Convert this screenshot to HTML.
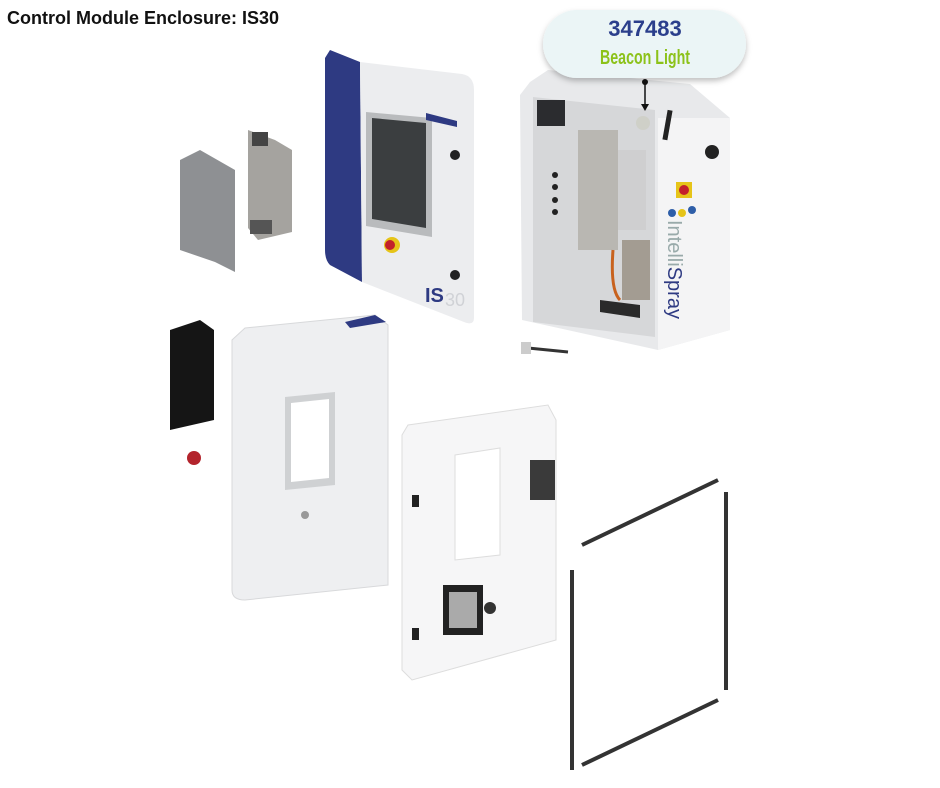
<!DOCTYPE html>
<html><head><style>
body{margin:0;background:#fff;width:940px;height:788px;overflow:hidden;position:relative;font-family:"Liberation Sans",sans-serif}
.t{position:absolute;left:7px;top:8px;font-size:18px;font-weight:bold;color:#111}
</style></head><body>
<div class="t">Control Module Enclosure: IS30</div>
<svg width="940" height="788" style="position:absolute;left:0;top:0">
<defs>
<filter id="sh" x="-20%" y="-20%" width="140%" height="160%"><feDropShadow dx="0" dy="3" stdDeviation="3" flood-opacity="0.25"/></filter>
</defs>
<path d="M180 160 L200 150 L235 170 L235 272 L215 262 L180 250 Z" fill="#8e9093"/>
<path d="M248 130 L275 140 L292 150 L292 232 L258 240 L248 228 Z" fill="#a5a39f"/>
<rect x="252" y="132" width="16" height="14" fill="#444"/>
<rect x="250" y="220" width="22" height="14" fill="#555"/>
<!-- front door -->
<path d="M330 50 L360 62 L362 282 L330 265 Q325 260 325 250 L325 58 Z" fill="#2e3a82"/>
<path d="M360 62 L462 74 Q474 76 474 90 L474 318 Q474 326 464 322 L362 282 Z" fill="#ecedef"/>
<path d="M366 112 L432 118 L432 237 L366 226 Z" fill="#b9bbbd"/>
<path d="M372 118 L426 123 L426 228 L372 219 Z" fill="#3b3e40"/>
<circle cx="392" cy="245" r="8" fill="#e6c419"/><circle cx="390" cy="245" r="5" fill="#c3202a"/>
<path d="M426 113 L457 121 L457 127 L426 120 Z" fill="#2e3a82"/>
<circle cx="455" cy="155" r="5" fill="#222"/><circle cx="455" cy="275" r="5" fill="#222"/>
<text x="425" y="302" font-size="20" font-weight="bold" fill="#2e3a82" font-family="Liberation Sans">IS</text>
<text x="445" y="306" font-size="18" fill="#d0d2d6" font-family="Liberation Sans">30</text>
<!-- cabinet -->
<path d="M530 82 L548 70 L690 84 L730 118 L730 330 L658 350 L522 320 L520 95 Z" fill="#e8e9eb"/>
<path d="M658 118 L730 118 L730 330 L658 350 Z" fill="#f4f4f5"/>
<path d="M533 97 L655 110 L655 337 L533 322 Z" fill="#d6d7d9"/>
<rect x="537" y="100" width="28" height="26" fill="#2b2c2f"/>
<rect x="578" y="130" width="40" height="120" fill="#b9b7b2"/>
<rect x="618" y="150" width="28" height="80" fill="#cfcfd0"/>
<rect x="622" y="240" width="28" height="60" fill="#a39c92"/>
<path d="M600 300 L640 305 L640 318 L600 312 Z" fill="#2a2a2a"/>
<path d="M613 250 Q610 290 620 300" stroke="#c8621e" stroke-width="3" fill="none"/>
<circle cx="555" cy="175" r="3" fill="#222"/><circle cx="555" cy="187" r="3" fill="#222"/><circle cx="555" cy="200" r="3" fill="#222"/><circle cx="555" cy="212" r="3" fill="#222"/>
<rect x="665" y="110" width="5" height="30" fill="#222" transform="rotate(10 667 125)"/>
<circle cx="712" cy="152" r="7" fill="#222"/>
<rect x="676" y="182" width="16" height="16" fill="#e6c419"/><circle cx="684" cy="190" r="5" fill="#c3202a"/>
<circle cx="672" cy="213" r="4" fill="#2e5ea8"/><circle cx="682" cy="213" r="4" fill="#e6c419"/><circle cx="692" cy="210" r="4" fill="#2e5ea8"/>
<text transform="translate(668,220) rotate(90)" font-size="20" fill="#9aa" font-family="Liberation Sans">Intelli<tspan fill="#2e3a82">Spray</tspan></text>
<circle cx="643" cy="123" r="7" fill="#cfd0c8"/>
<path d="M528 348 L568 352" stroke="#333" stroke-width="3"/>
<rect x="521" y="342" width="10" height="12" fill="#ccc"/>
<!-- label -->
<rect x="543" y="10" width="203" height="68" rx="34" fill="#ebf5f6" filter="url(#sh)"/>
<text x="645" y="36" text-anchor="middle" font-size="22" font-weight="bold" fill="#2b3f8c" font-family="Liberation Sans">347483</text>
<text x="645" y="64" text-anchor="middle" font-size="20" font-weight="bold" fill="#8cc21a" font-family="Liberation Sans Narrow,Liberation Sans" textLength="90" lengthAdjust="spacingAndGlyphs">Beacon Light</text>
<circle cx="645" cy="82" r="3" fill="#111"/>
<line x1="645" y1="82" x2="645" y2="108" stroke="#111" stroke-width="1.5"/>
<path d="M641 104 L645 111 L649 104 Z" fill="#111"/>
<path d="M170 330 L200 320 L214 330 L214 420 L170 430 Z" fill="#151515"/>
<circle cx="194" cy="458" r="7" fill="#b3242c"/>
<path d="M245 328 L375 315 L388 325 L388 585 L245 600 Q232 600 232 590 L232 340 Z" fill="#eeeff1" stroke="#d8d9db"/>
<path d="M345 322 L375 315 L386 322 L350 328 Z" fill="#2e3a82"/>
<path d="M285 397 L335 392 L335 485 L285 490 Z" fill="#cfd1d3"/>
<path d="M291 403 L329 399 L329 478 L291 482 Z" fill="#fff"/>
<circle cx="305" cy="515" r="4" fill="#999"/>
<path d="M408 425 L548 405 L556 420 L556 640 L412 680 L402 670 L402 435 Z" fill="#f6f6f7" stroke="#ddd"/>
<path d="M455 455 L500 448 L500 555 L455 560 Z" fill="#fff" stroke="#ddd"/>
<rect x="530" y="460" width="25" height="40" fill="#3a3a3a"/>
<rect x="443" y="585" width="40" height="50" fill="#222"/>
<rect x="449" y="592" width="28" height="36" fill="#aaa"/>
<circle cx="490" cy="608" r="6" fill="#333"/>
<rect x="412" y="495" width="7" height="12" fill="#222"/><rect x="412" y="628" width="7" height="12" fill="#222"/>
<g stroke="#333" stroke-width="4" fill="none">
<line x1="582" y1="545" x2="718" y2="480"/>
<line x1="726" y1="492" x2="726" y2="690"/>
<line x1="582" y1="765" x2="718" y2="700"/>
<line x1="572" y1="570" x2="572" y2="770"/>
</g>
</svg>
</body></html>
